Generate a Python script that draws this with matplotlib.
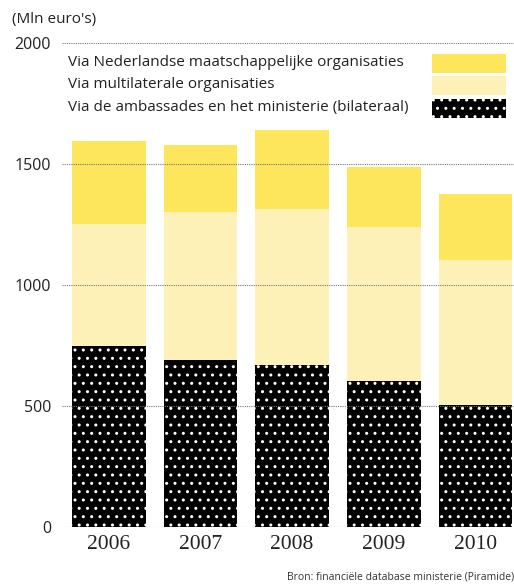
import matplotlib
matplotlib.use("Agg")
import matplotlib.pyplot as plt
from matplotlib.patches import Rectangle

plt.rcParams["font.family"] = ["Open Sans", "DejaVu Sans"]
plt.rcParams["hatch.linewidth"] = 1.0

years = ["2006", "2007", "2008", "2009", "2010"]
bilateraal = [748, 690, 669, 603, 504]
multilateraal = [504, 612, 645, 637, 599]
maatschappelijk = [343, 276, 326, 248, 273]

series_labels = [
    "Via Nederlandse maatschappelijke organisaties",
    "Via multilaterale organisaties",
    "Via de ambassades en het ministerie (bilateraal)",
]

YELLOW = "#fde55c"
LIGHT = "#fef1b7"

fig = plt.figure(figsize=(5.14, 5.85), dpi=100)
ax = fig.add_axes([0.1206, 0.0991, 0.8794, 0.8274])

x = list(range(len(years)))
w = 0.805
ax.bar(x, bilateraal, width=w, color="black", edgecolor="white", hatch="..", linewidth=0, zorder=2)
bottom2 = bilateraal
ax.bar(x, multilateraal, width=w, bottom=bottom2, color=LIGHT, linewidth=0, zorder=2)
bottom3 = [a + b for a, b in zip(bilateraal, multilateraal)]
ax.bar(x, maatschappelijk, width=w, bottom=bottom3, color=YELLOW, linewidth=0, zorder=2)

for yv in [0, 500, 1000, 1500, 2000]:
    ax.axhline(yv, color="#777777", linestyle=(0, (1, 1)), linewidth=0.8, zorder=3)

ax.set_xlim(-0.51, 4.42)
ax.set_ylim(0, 2000)
ax.set_yticks([0, 500, 1000, 1500, 2000])
ax.set_yticklabels(["0", "500", "1000", "1500", "2000"], fontsize=11.5, color="#222222")
ax.set_xticks(x)
ax.set_xticklabels(years, fontsize=15.5, family=["Liberation Serif", "DejaVu Serif"], color="#222222")
ax.tick_params(axis="y", length=0, pad=8)
ax.tick_params(axis="x", length=0, pad=6)
for s in ax.spines.values():
    s.set_visible(False)

# legend: text on the left, swatches on the right
H = 585.0
W = 514.0
rows = [(63, YELLOW, None), (85, LIGHT, None), (108, "black", "..")]
for (yc, col, hatch), lab in zip(rows, series_labels):
    fig.text(68 / W, 1 - yc / H, lab, fontsize=11, va="center", ha="left", color="#222222")
    r = Rectangle((432 / W, 1 - (yc + 9.5) / H), 74 / W, 19 / H, transform=fig.transFigure,
                  facecolor=col, edgecolor="white" if hatch else col, hatch=hatch, linewidth=0)
    fig.patches.append(r)

fig.text(12 / W, 1 - 19 / H, "(Mln euro's)", fontsize=11, va="center", ha="left", color="#222222")
fig.text(1.0, 1 - 577 / H, "Bron: financiële database ministerie (Piramide)", fontsize=7.5,
         va="center", ha="right", color="#333333")

fig.savefig("out.png", dpi=100)
